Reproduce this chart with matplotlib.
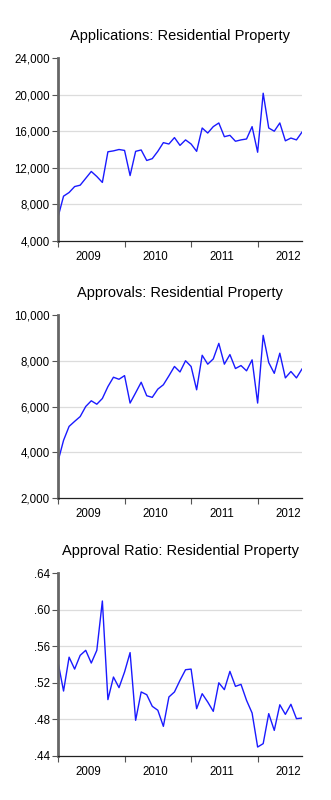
"""
Residential property applications, approvals and approval ratio, monthly 2009-2012
"""
import numpy as np
import matplotlib
matplotlib.use('Agg')
import matplotlib.pyplot as plt
from matplotlib.ticker import FixedLocator, FuncFormatter, NullFormatter

plt.rcParams['font.family'] = ['Liberation Sans', 'DejaVu Sans']

# Monthly observations, Jan 2009 - Sep 2012
start_year = 2009
applications = [
    6600, 8900, 9300, 9950, 10100, 10850, 11600, 11050, 10400, 13750,
    13850, 14000, 13900, 11150, 13800, 13950, 12800, 13000, 13800, 14750,
    14600, 15300, 14450, 15050, 14600, 13800, 16350, 15800, 16500, 16900,
    15400, 15550, 14900, 15050, 15150, 16500, 13700, 20150, 16350, 16000,
    16900, 14950, 15250, 15050, 15900,
]
approvals = [
    3600, 4520, 5130, 5350, 5560, 6000, 6250, 6100, 6350, 6870,
    7280, 7190, 7350, 6150, 6600, 7060, 6470, 6400, 6760, 6950,
    7340, 7750, 7510, 8000, 7750, 6730, 8240, 7850, 8080, 8760,
    7850, 8270, 7660, 7790, 7560, 8040, 6150, 9110, 7920, 7450,
    8330, 7250, 7530, 7250, 7640,
]
approval_ratio = [
    .5427, .511, .548, .535, .550, .5555, .5416, .5555, .6094, .5016,
    .5263, .5147, .5318, .553, .479, .510, .507, .4943, .490, .4724,
    .5045, .510, .5227, .5343, .535, .4917, .5081, .499, .4888, .520,
    .5125, .5325, .5161, .5183, .5008, .487, .4498, .4535, .4863, .468,
    .496, .4855, .4965, .4808, .4815,
]
year_labels = ['2009', '2010', '2011', '2012']

panels = [
    ('Applications: Residential Property', applications,
     [4000, 8000, 12000, 16000, 20000, 24000],
     lambda v, p: f'{int(v):,}'),
    ('Approvals: Residential Property', approvals,
     [2000, 4000, 6000, 8000, 10000],
     lambda v, p: f'{int(v):,}'),
    ('Approval Ratio: Residential Property', approval_ratio,
     [.44, .48, .52, .56, .60, .64],
     lambda v, p: f'{v:.2f}'.lstrip('0')),
]

# axes boxes in figure pixels: (top, bottom)
W, H = 331, 800
x0, x1 = 58, 302
boxes = [(58, 241), (315, 498), (573, 756)]

fig = plt.figure(figsize=(W / 100, H / 100), dpi=100)

for (title, values, yticks, fmt), (top, bottom) in zip(panels, boxes):
    ax = fig.add_axes([x0 / W, 1 - bottom / H, (x1 - x0) / W, (bottom - top) / H])
    months = np.arange(len(values))
    ax.plot(months, values, color='#1a1aff', linewidth=1.0)

    ax.set_xlim(0, len(values) - 1)
    ax.set_ylim(yticks[0], yticks[-1])

    # light horizontal grid inside the frame only
    for y in yticks[1:-1]:
        ax.axhline(y, color='#dcdcdc', linewidth=0.9, zorder=0)

    ax.yaxis.set_major_locator(FixedLocator(yticks))
    ax.yaxis.set_major_formatter(FuncFormatter(fmt))

    # year boundaries as ticks, year names centred between them
    ax.xaxis.set_major_locator(FixedLocator([0, 12, 24, 36]))
    ax.xaxis.set_major_formatter(NullFormatter())
    ax.xaxis.set_minor_locator(FixedLocator([5.5, 17.5, 29.5, 41.5]))
    ax.xaxis.set_minor_formatter(FuncFormatter(
        lambda v, p: year_labels[int(v // 12)]))
    ax.tick_params(axis='x', which='major', length=4, width=0.8, color='#555555')
    ax.tick_params(axis='x', which='minor', length=0, pad=7, labelsize=8.3)
    ax.tick_params(axis='y', length=4, width=0.8, color='#555555', labelsize=8.3, pad=2)

    for side in ('top', 'right'):
        ax.spines[side].set_visible(False)
    ax.spines['left'].set_linewidth(2.0)
    ax.spines['left'].set_color('#666666')
    ax.spines['bottom'].set_linewidth(0.9)
    ax.spines['bottom'].set_color('#222222')

    ax.set_title(title, fontsize=10.5, pad=13)

fig.savefig('out.png', dpi=100)
